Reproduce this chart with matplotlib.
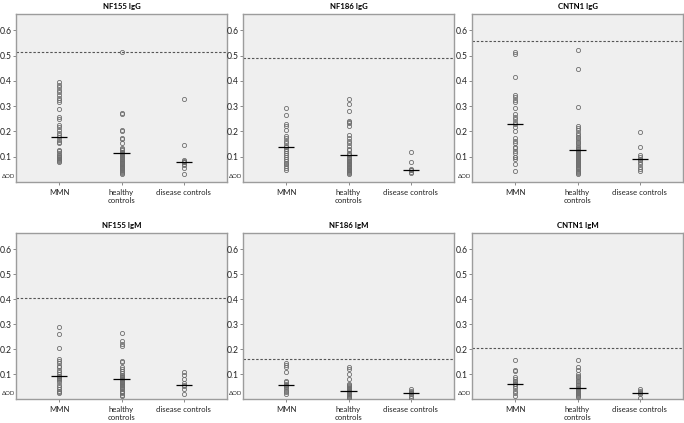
import numpy as np
import matplotlib
matplotlib.use("Agg")
import matplotlib.pyplot as plt

plt.rcParams['font.family'] = ['Lato', 'DejaVu Sans']

groups = ['MMN', 'healthy\ncontrols', 'disease controls']
titles = ['NF155 IgG', 'NF186 IgG', 'CNTN1 IgG', 'NF155 IgM', 'NF186 IgM', 'CNTN1 IgM']

# NF155 IgG
nf155_igg_mmn = [0.394, 0.385, 0.376, 0.365, 0.355, 0.345, 0.332, 0.325, 0.315, 0.288, 0.256, 0.251,
                 0.226, 0.219, 0.206, 0.193, 0.186, 0.18, 0.166, 0.16, 0.153, 0.128, 0.122, 0.115,
                 0.108, 0.104, 0.1, 0.096, 0.092, 0.088, 0.084, 0.08]
nf155_igg_hc = [0.515, 0.275, 0.268, 0.205, 0.2, 0.175, 0.17, 0.155, 0.135, 0.13, 0.125, 0.12, 0.118,
                0.115, 0.112, 0.11, 0.108, 0.105, 0.102, 0.1, 0.097, 0.094, 0.09, 0.087, 0.084, 0.08,
                0.077, 0.074, 0.07, 0.067, 0.064, 0.06, 0.057, 0.054, 0.05, 0.046, 0.042, 0.038,
                0.034, 0.03]
nf155_igg_dc = [0.328, 0.145, 0.088, 0.085, 0.08, 0.078, 0.07, 0.066, 0.055, 0.032]

# NF186 IgG
nf186_igg_mmn = [0.293, 0.264, 0.228, 0.221, 0.205, 0.184, 0.174, 0.163, 0.153, 0.142, 0.137, 0.132,
                 0.122, 0.113, 0.105, 0.098, 0.092, 0.083, 0.076, 0.07, 0.063, 0.057, 0.047]
nf186_igg_hc = [0.329, 0.31, 0.283, 0.242, 0.237, 0.232, 0.221, 0.188, 0.175, 0.162, 0.153, 0.142,
                0.132, 0.126, 0.116, 0.11, 0.105, 0.1, 0.096, 0.092, 0.088, 0.085, 0.082, 0.079,
                0.076, 0.073, 0.07, 0.067, 0.064, 0.061, 0.058, 0.055, 0.052, 0.049, 0.046, 0.043,
                0.04, 0.036, 0.032]
nf186_igg_dc = [0.118, 0.08, 0.053, 0.048, 0.046, 0.041, 0.034]

# CNTN1 IgG
cntn1_igg_mmn = [0.515, 0.508, 0.416, 0.345, 0.335, 0.325, 0.315, 0.292, 0.268, 0.259, 0.251, 0.239,
                 0.23, 0.217, 0.203, 0.176, 0.162, 0.156, 0.14, 0.133, 0.124, 0.116, 0.1, 0.097,
                 0.091, 0.071, 0.044]
cntn1_igg_hc = [0.524, 0.447, 0.295, 0.222, 0.215, 0.206, 0.195, 0.186, 0.18, 0.173, 0.166, 0.16,
                0.153, 0.146, 0.14, 0.134, 0.13, 0.127, 0.124, 0.12, 0.116, 0.112, 0.108, 0.104, 0.1,
                0.096, 0.092, 0.088, 0.084, 0.08, 0.076, 0.072, 0.068, 0.064, 0.06, 0.055, 0.05,
                0.045, 0.04, 0.035, 0.03]
cntn1_igg_dc = [0.197, 0.138, 0.107, 0.1, 0.093, 0.087, 0.08, 0.073, 0.06, 0.05, 0.043]

# NF155 IgM
nf155_igm_mmn = [0.29, 0.26, 0.206, 0.16, 0.151, 0.143, 0.133, 0.127, 0.116, 0.108, 0.1, 0.092, 0.088,
                 0.084, 0.08, 0.076, 0.067, 0.057, 0.047, 0.04, 0.034, 0.028, 0.024]
nf155_igm_hc = [0.265, 0.233, 0.222, 0.212, 0.151, 0.148, 0.127, 0.119, 0.111, 0.103, 0.097, 0.093,
                0.09, 0.087, 0.083, 0.08, 0.077, 0.073, 0.07, 0.067, 0.063, 0.06, 0.056, 0.053, 0.048,
                0.044, 0.039, 0.034, 0.028, 0.023, 0.018, 0.014]
nf155_igm_dc = [0.109, 0.096, 0.08, 0.063, 0.058, 0.053, 0.039, 0.02]

# NF186 IgM
nf186_igm_mmn = [0.146, 0.137, 0.127, 0.109, 0.073, 0.067, 0.06, 0.057, 0.053, 0.047, 0.04, 0.034,
                 0.027, 0.02]
nf186_igm_hc = [0.129, 0.119, 0.1, 0.08, 0.06, 0.056, 0.052, 0.048, 0.045, 0.042, 0.039, 0.036, 0.034,
                0.032, 0.029, 0.026, 0.023, 0.02, 0.017, 0.013, 0.009, 0.005]
nf186_igm_dc = [0.04, 0.034, 0.027, 0.024, 0.02, 0.014, 0.005]

# CNTN1 IgM
cntn1_igm_mmn = [0.157, 0.116, 0.111, 0.087, 0.08, 0.073, 0.067, 0.06, 0.059, 0.053, 0.044, 0.034,
                 0.024, 0.014]
cntn1_igm_hc = [0.157, 0.13, 0.116, 0.1, 0.093, 0.087, 0.08, 0.073, 0.067, 0.06, 0.055, 0.05, 0.046,
                0.042, 0.038, 0.034, 0.03, 0.026, 0.022, 0.018, 0.014, 0.01]
cntn1_igm_dc = [0.04, 0.034, 0.027, 0.025, 0.02, 0.005]

medians = [[0.18, 0.113, 0.079], [0.14, 0.105, 0.047], [0.23, 0.127, 0.093],
           [0.092, 0.079, 0.058], [0.057, 0.034, 0.024], [0.059, 0.046, 0.025]]
cutoffs = [0.515, 0.49, 0.558, 0.403, 0.161, 0.206]

panels = [
    [nf155_igg_mmn, nf155_igg_hc, nf155_igg_dc],
    [nf186_igg_mmn, nf186_igg_hc, nf186_igg_dc],
    [cntn1_igg_mmn, cntn1_igg_hc, cntn1_igg_dc],
    [nf155_igm_mmn, nf155_igm_hc, nf155_igm_dc],
    [nf186_igm_mmn, nf186_igm_hc, nf186_igm_dc],
    [cntn1_igm_mmn, cntn1_igm_hc, cntn1_igm_dc],
]

fig = plt.figure(figsize=(6.84, 4.23), dpi=100)
lefts = [16 / 684, 243 / 684, 472 / 684]
w = 211 / 684
rows = [(1 - 182 / 423, 168 / 423), (1 - 399 / 423, 166 / 423)]

for i in range(6):
    r, c = divmod(i, 3)
    ax = fig.add_axes([lefts[c], rows[r][0], w, rows[r][1]])
    ax.set_facecolor('#efefef')
    for s in ax.spines.values():
        s.set_color('#9c9c9c')
        s.set_linewidth(1.0)

    for j, vals in enumerate(panels[i]):
        x = np.full(len(vals), j + 1)
        ax.plot(x, vals, 'o', ms=3, mfc='none', mec='#6e6e6e', mew=0.6, zorder=3)
        ax.hlines(medians[i][j], j + 1 - 0.13, j + 1 + 0.13, color='black', lw=0.9, zorder=4)

    ax.axhline(cutoffs[i], color='#555555', lw=0.8, ls=(0, (2.2, 1.6)), zorder=2)

    ax.set_xlim(0.31, 3.69)
    ax.set_ylim(0, 0.665)
    ax.set_xticks([1, 2, 3])
    ax.set_xticklabels(groups, fontsize=5.6, linespacing=1.15)
    ax.set_yticks([0.1, 0.2, 0.3, 0.4, 0.5, 0.6])
    ax.set_yticklabels(['0.1', '0.2', '0.3', '0.4', '0.5', '0.6'], fontsize=6.2)
    ax.tick_params(axis='both', length=2, width=0.6, color='#777777', pad=0.8, labelcolor='#222222')
    ax.tick_params(axis='x', pad=3)
    ax.text(-0.005, 0.022, 'ΔOD', transform=ax.get_yaxis_transform(), ha='right', va='center',
            fontsize=4.3, color='#333333')
    ax.set_title(titles[i], fontsize=5.6, fontweight='bold', pad=3.5)

fig.savefig('out.png', dpi=100)
